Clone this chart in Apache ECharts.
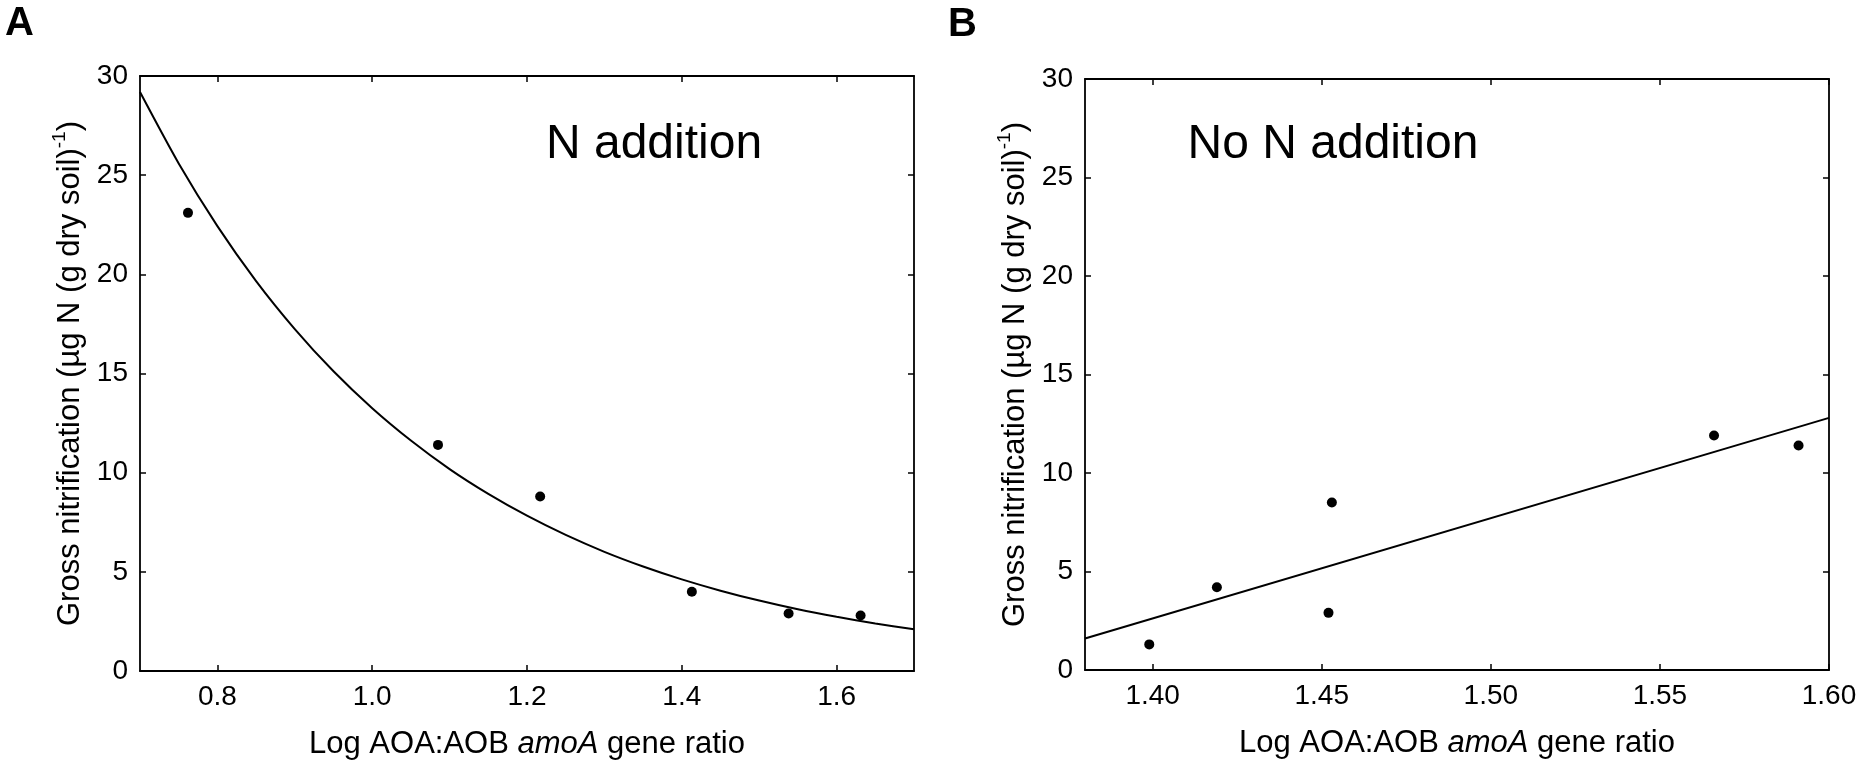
<!DOCTYPE html>
<html>
<head>
<meta charset="utf-8">
<script src="https://cdn.jsdelivr.net/npm/echarts@6/dist/echarts.min.js"></script>
<style>
html,body{margin:0;padding:0;background:#fff;}
#chart{width:1866px;height:770px;}
</style>
</head>
<body>
<div id="chart"></div>
<script>
// ---- Data ----
const panelA_x = [0.762, 1.085, 1.217, 1.413, 1.538, 1.631];
const panelA_y = [23.1, 11.4, 8.8, 4.0, 2.9, 2.8];
// fitted curve
const panelA_fitX = [0.70, 0.75, 0.80, 0.85, 0.90, 0.95, 1.00, 1.05, 1.10, 1.15, 1.20, 1.25, 1.30, 1.35, 1.40, 1.45, 1.50, 1.55, 1.60, 1.65, 1.70];
const panelA_fitY = [29.19, 25.59, 22.43, 19.66, 17.24, 15.11, 13.25, 11.62, 10.18, 8.93, 7.83, 6.86, 6.01, 5.27, 4.62, 4.05, 3.55, 3.11, 2.73, 2.39, 2.10];
const panelA_xTicks = [0.8, 1.0, 1.2, 1.4, 1.6];

const panelB_x = [1.399, 1.419, 1.452, 1.453, 1.566, 1.591];
const panelB_y = [1.3, 4.2, 2.9, 8.5, 11.9, 11.4];
const panelB_fitX = [1.38, 1.60];
const panelB_fitY = [1.6, 12.8];
const panelB_xTicks = [1.40, 1.45, 1.50, 1.55, 1.60];

const yTicksMax = 30, yTickStep = 5;
const xTitle = 'Log AOA:AOB {i|amoA} gene ratio';
const yTitle = '{a|Gross nitrification (µg N (g dry soil)}{s|-1}{a|)}';
const labelA = 'N addition';
const labelB = 'No N addition';

const pairs = (xs, ys) => xs.map((x, i) => [x, ys[i]]);

const FONT = 'Liberation Sans, Arial, sans-serif';
const BLACK = '#000';

function bottomX(grid, min, max, ticks, dec) {
  return {
    type: 'value', gridIndex: grid, position: 'bottom', min: min, max: max,
    axisLine: {show: true, onZero: false, lineStyle: {color: BLACK, width: 1.8}},
    axisTick: {show: true, inside: true, length: 6, customValues: ticks, lineStyle: {color: BLACK, width: 1.5}},
    axisLabel: {show: true, customValues: ticks, margin: 12, color: BLACK, fontSize: 28, fontFamily: FONT,
      formatter: v => Number(v).toFixed(dec)},
    splitLine: {show: false},
    name: xTitle, nameLocation: 'middle', nameGap: 58,
    nameTextStyle: {color: BLACK, fontSize: 31, fontFamily: FONT,
      rich: {i: {fontStyle: 'italic', fontSize: 31, fontFamily: FONT, color: BLACK}}}
  };
}
function topX(grid, min, max, ticks) {
  return {
    type: 'value', gridIndex: grid, position: 'top', min: min, max: max,
    axisLine: {show: true, onZero: false, lineStyle: {color: BLACK, width: 1.8}},
    axisTick: {show: true, inside: true, length: 6, customValues: ticks, lineStyle: {color: BLACK, width: 1.5}},
    axisLabel: {show: false}, splitLine: {show: false}
  };
}
function leftY(grid) {
  return {
    type: 'value', gridIndex: grid, position: 'left', min: 0, max: yTicksMax, interval: yTickStep,
    axisLine: {show: true, onZero: false, lineStyle: {color: BLACK, width: 1.8}},
    axisTick: {show: true, inside: true, length: 6, lineStyle: {color: BLACK, width: 1.5}},
    axisLabel: {show: true, margin: 12, color: BLACK, fontSize: 28, fontFamily: FONT},
    splitLine: {show: false},
    name: yTitle, nameLocation: 'middle', nameRotate: 90, nameGap: 54,
    nameTextStyle: {color: BLACK, fontFamily: FONT,
      rich: {
        a: {fontSize: 31, fontFamily: FONT, color: BLACK, lineHeight: 36, verticalAlign: 'bottom'},
        s: {fontSize: 19, fontFamily: FONT, color: BLACK, lineHeight: 36, verticalAlign: 'top'}
      }}
  };
}
function rightY(grid) {
  return {
    type: 'value', gridIndex: grid, position: 'right', min: 0, max: yTicksMax, interval: yTickStep,
    axisLine: {show: true, onZero: false, lineStyle: {color: BLACK, width: 1.8}},
    axisTick: {show: true, inside: true, length: 6, lineStyle: {color: BLACK, width: 1.5}},
    axisLabel: {show: false}, splitLine: {show: false}
  };
}

const chart = echarts.init(document.getElementById('chart'), null, {renderer: 'canvas'});
chart.setOption({
  backgroundColor: '#fff',
  animation: false,
  grid: [
    {left: 140, top: 76, width: 774, height: 595},
    {left: 1085, top: 79, width: 744, height: 591}
  ],
  xAxis: [
    bottomX(0, 0.7, 1.7, panelA_xTicks, 1),
    topX(0, 0.7, 1.7, panelA_xTicks),
    bottomX(1, 1.38, 1.60, panelB_xTicks, 2),
    topX(1, 1.38, 1.60, panelB_xTicks)
  ],
  yAxis: [leftY(0), rightY(0), leftY(1), rightY(1)],
  graphic: [
    {type: 'text', left: 5, top: 4, style: {text: 'A', font: 'bold 40px ' + FONT, fill: BLACK}},
    {type: 'text', left: 948, top: 5, style: {text: 'B', font: 'bold 40px ' + FONT, fill: BLACK}},
    {type: 'text', x: 654, y: 145, style: {text: labelA, font: '48px ' + FONT, fill: BLACK, align: 'center', verticalAlign: 'middle'}},
    {type: 'text', x: 1333, y: 145, style: {text: labelB, font: '48px ' + FONT, fill: BLACK, align: 'center', verticalAlign: 'middle'}}
  ],
  series: [
    {type: 'line', xAxisIndex: 0, yAxisIndex: 0, data: pairs(panelA_fitX, panelA_fitY), smooth: 0.25,
      showSymbol: false, lineStyle: {color: BLACK, width: 2}, silent: true, z: 2},
    {type: 'scatter', xAxisIndex: 0, yAxisIndex: 0, data: pairs(panelA_x, panelA_y), symbol: 'circle',
      symbolSize: 10, itemStyle: {color: BLACK, opacity: 1}, z: 3},
    {type: 'line', xAxisIndex: 2, yAxisIndex: 2, data: pairs(panelB_fitX, panelB_fitY),
      showSymbol: false, lineStyle: {color: BLACK, width: 2}, silent: true, z: 2},
    {type: 'scatter', xAxisIndex: 2, yAxisIndex: 2, data: pairs(panelB_x, panelB_y), symbol: 'circle',
      symbolSize: 10, itemStyle: {color: BLACK, opacity: 1}, z: 3}
  ]
});
</script>
</body>
</html>
